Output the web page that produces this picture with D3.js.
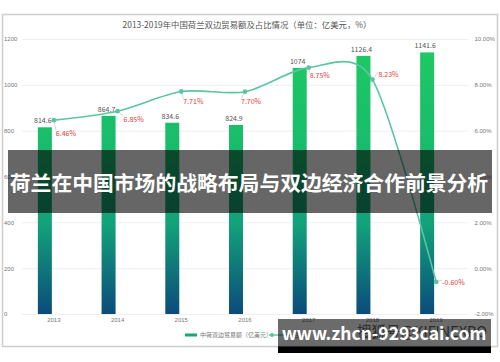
<!DOCTYPE html>
<html>
<head>
<meta charset="utf-8">
<script src="https://cdn.jsdelivr.net/npm/d3@7"></script>
<style>
  body { margin: 0; background: #fff; }
  svg { display: block; font-family: "Noto Sans CJK SC", "Noto Sans", sans-serif; }
</style>
</head>
<body>
<div class="chart"></div>
<script>
// Data.
let years = ['2013', '2014', '2015', '2016', '2017', '2018', '2019'];
let tradeValues = [814.6, 864.7, 834.6, 824.9, 1074, 1126.4, 1141.6];
let sharePct = [6.46, 6.85, 7.71, 7.70, 8.75, 8.23, -0.60];
let leftTicks = [0, 200, 400, 600, 800, 1000, 1200];
let rightTicks = [-2, 0, 2, 4, 6, 8, 10];
// Label nudges for the % labels (relative to each point).
let pctNudge = [[1, 13], [5, 8], [1, 10], [-5, 10], [0, 8], [5, -5], [5, 1]];

// Build constants.
let width = 500,
    height = 362;

let pct = d => d.toFixed(2) + '%';

let svg = d3.select('.chart')
    .append('svg')
        .attr('width', width)
        .attr('height', height);

// Frame.
svg.append('rect')
    .attr('x', 2.5).attr('y', 14.5)
    .attr('width', 495).attr('height', 332)
    .attr('fill', '#fff')
    .attr('stroke', '#cfcfcf')
    .attr('stroke-width', 1.6);

// Title.
svg.append('text')
    .attr('x', 247).attr('y', 28)
    .attr('text-anchor', 'middle')
    .attr('font-size', 8.4)
    .attr('fill', '#555')
    .text('2013-2019年中国荷兰双边贸易额及占比情况（单位：亿美元，%）');

// Scales.
let x = d3.scaleBand().domain(years).range([22, 468]);
let yL = d3.scaleLinear().domain([0, 1200]).range([314, 39]);
let yR = d3.scaleLinear().domain([-2, 10]).range([314, 39]);
let barW = 14, barShift = -9;

// Gridlines.
svg.append('g')
    .attr('transform', 'translate(22,0)')
    .call(d3.axisRight(yL).tickValues(leftTicks).tickSize(446).tickFormat(''))
    .call(g => g.select('.domain').remove())
    .call(g => g.selectAll('line').attr('stroke', '#ebebeb').attr('stroke-width', 0.8));

// Left axis labels.
svg.append('g')
    .attr('transform', 'translate(4,0)')
    .call(d3.axisRight(yL).tickValues(leftTicks).tickSize(0).tickPadding(0).tickFormat(d3.format('d')))
    .call(g => g.select('.domain').remove())
    .call(g => g.selectAll('text').attr('font-size', 6).attr('fill', '#777').attr('font-family', null));

// Right axis labels.
svg.append('g')
    .attr('transform', 'translate(474.5,0)')
    .call(d3.axisRight(yR).tickValues(rightTicks).tickSize(0).tickPadding(0).tickFormat(pct))
    .call(g => g.select('.domain').remove())
    .call(g => g.selectAll('text').attr('font-size', 6).attr('fill', '#777').attr('font-family', null));

// X axis labels.
svg.append('g')
    .attr('transform', 'translate(0,314)')
    .call(d3.axisBottom(x).tickSize(0).tickPadding(4))
    .call(g => g.select('.domain').remove())
    .call(g => g.selectAll('text').attr('font-size', 6).attr('fill', '#777').attr('font-family', null));

// Bar gradient.
let defs = svg.append('defs');
let grad = defs.append('linearGradient')
    .attr('id', 'barGrad')
    .attr('gradientUnits', 'userSpaceOnUse')
    .attr('x1', 0).attr('x2', 0)
    .attr('y1', yL(1200)).attr('y2', yL(0));
grad.append('stop').attr('offset', '0%').attr('stop-color', '#1fca62');
grad.append('stop').attr('offset', '40%').attr('stop-color', '#18bb6c');
grad.append('stop').attr('offset', '68%').attr('stop-color', '#12a07a');
grad.append('stop').attr('offset', '100%').attr('stop-color', '#0b4b7b');

// Draw bars.
svg.selectAll('rect.bar')
    .data(tradeValues)
    .join('rect')
        .attr('class', 'bar')
        .attr('x', (d, i) => x(years[i]) + x.bandwidth() / 2 + barShift - barW / 2)
        .attr('y', d => yL(d))
        .attr('width', barW)
        .attr('height', d => yL(0) - yL(d))
        .attr('fill', 'url(#barGrad)');

// Bar value labels.
svg.selectAll('text.val')
    .data(tradeValues)
    .join('text')
        .attr('class', 'val')
        .attr('x', (d, i) => x(years[i]) + x.bandwidth() / 2 + barShift - 2)
        .attr('y', d => yL(d) - 4)
        .attr('text-anchor', 'middle')
        .attr('font-size', 7)
        .attr('fill', '#555')
        .text(d => d);

// Line.
let cx = (d, i) => x(years[i]) + x.bandwidth() / 2;
let line = d3.line()
    .x(cx)
    .y(d => yR(d))
    .curve(d3.curveCardinal.tension(0.15));

svg.append('path')
    .datum(sharePct)
    .attr('d', line)
    .attr('fill', 'none')
    .attr('stroke', '#5cc59f')
    .attr('stroke-width', 1.6);

// Leader lines.
svg.selectAll('line.lead')
    .data(sharePct)
    .join('line')
        .attr('class', 'lead')
        .attr('x1', cx)
        .attr('y1', d => yR(d))
        .attr('x2', (d, i) => cx(d, i) + pctNudge[i][0] + 1)
        .attr('y2', (d, i) => yR(d) + pctNudge[i][1] - 3)
        .attr('stroke', '#bbb')
        .attr('stroke-width', 0.6);

svg.selectAll('circle.pt')
    .data(sharePct)
    .join('circle')
        .attr('class', 'pt')
        .attr('cx', cx)
        .attr('cy', d => yR(d))
        .attr('r', 2.4)
        .attr('fill', '#5cc59f');

svg.selectAll('text.pct')
    .data(sharePct)
    .join('text')
        .attr('class', 'pct')
        .attr('x', (d, i) => cx(d, i) + pctNudge[i][0] + 1)
        .attr('y', (d, i) => yR(d) + pctNudge[i][1])
        .attr('dy', '0.35em')
        .attr('font-size', 7)
        .attr('fill', '#e0403a')
        .text(pct);

// Legend.
svg.append('rect')
    .attr('x', 185).attr('y', 333.5)
    .attr('width', 12).attr('height', 3)
    .attr('fill', '#14a878');
svg.append('text')
    .attr('x', 200).attr('y', 335)
    .attr('dy', '0.35em')
    .attr('font-size', 6)
    .attr('fill', '#777')
    .text('中荷双边贸易额（亿美元）');
svg.append('line')
    .attr('x1', 269).attr('x2', 290)
    .attr('y1', 335).attr('y2', 335)
    .attr('stroke', '#5cc59f').attr('stroke-width', 1.4);
svg.append('circle')
    .attr('cx', 272).attr('cy', 335).attr('r', 2)
    .attr('fill', '#5cc59f');
svg.append('text')
    .attr('x', 293).attr('y', 335)
    .attr('dy', '0.35em')
    .attr('font-size', 6)
    .attr('fill', '#777')
    .text('占比');

// Overlay banner.
svg.append('rect')
    .attr('x', 8).attr('y', 150)
    .attr('width', 484).attr('height', 63)
    .attr('fill', 'rgba(0,0,0,0.6)');
svg.append('text')
    .attr('x', 249).attr('y', 184)
    .attr('dy', '0.35em')
    .attr('text-anchor', 'middle')
    .attr('font-size', 20.8)
    .attr('font-weight', 'bold')
    .attr('fill', '#fff')
    .text('荷兰在中国市场的战略布局与双边经济合作前景分析');

// Bottom watermark banner.
svg.append('rect')
    .attr('x', 278).attr('y', 319)
    .attr('width', 213).attr('height', 28)
    .attr('fill', 'rgba(0,0,0,0.58)');
svg.append('rect')
    .attr('x', 278).attr('y', 346.5)
    .attr('width', 213).attr('height', 6.5)
    .attr('fill', '#000');
svg.append('text')
    .attr('x', 357).attr('y', 332)
    .attr('dy', '0.35em')
    .attr('font-size', 15)
    .attr('textLength', 130)
    .attr('lengthAdjust', 'spacingAndGlyphs')
    .attr('fill', '#2a2a2a')
    .text('搜狐号@KIFINEXPO');
svg.append('text')
    .attr('x', 384).attr('y', 334)
    .attr('dy', '0.35em')
    .attr('text-anchor', 'middle')
    .attr('font-size', 17.5)
    .attr('font-weight', 'bold')
    .attr('fill', '#fff')
    .text('www.zhcn-9293cai.com');
</script>
</body>
</html>
